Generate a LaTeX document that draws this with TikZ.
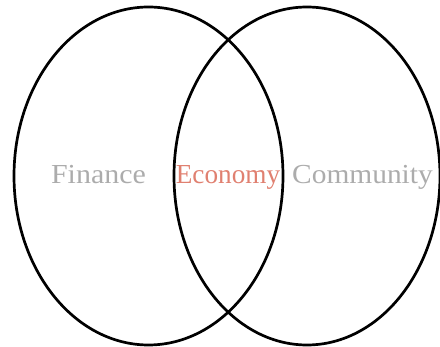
\documentclass[tikz,border=0pt]{standalone}
\usepackage{fontspec}
\setmainfont{Liberation Serif}
\usetikzlibrary{shapes.geometric}
\definecolor{labelgrey}{RGB}{172,172,172}
\definecolor{labelred}{RGB}{224,128,112}
\begin{document}
\begin{tikzpicture}[x=1pt,y=-1pt,
  setring/.style={ellipse,draw=black,line width=2.7pt,inner sep=0pt,
    minimum width=#1},
  setlabel/.style={anchor=base,inner sep=0pt,
    font=\fontsize{27.5}{30}\selectfont}]
  \useasboundingbox (0,0) rectangle (440,347);
  % the two overlapping sets
  \node[setring=269pt,minimum height=338pt] (finance) at (148.5,176) {};
  \node[setring=266pt,minimum height=338pt] (community) at (307,176) {};
  % labels
  \node[setlabel,text=labelgrey] (lfin) at (98.5,183.5) {\scalebox{1.09}[1]{Finance}};
  \node[setlabel,text=labelred] (leco) at (228,183.5) {\scalebox{0.99}[1]{Economy}};
  \node[setlabel,text=labelgrey] (lcom) at (362.5,183.5) {\scalebox{1.07}[1]{Community}};
\end{tikzpicture}
\end{document}
